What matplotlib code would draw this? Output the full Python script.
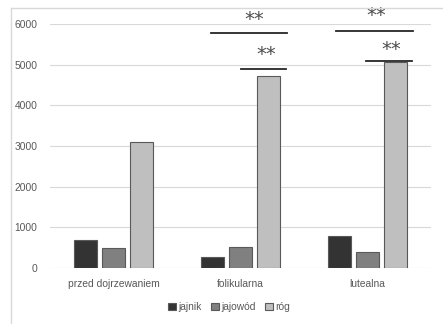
import matplotlib
matplotlib.use("Agg")
import matplotlib.pyplot as plt
from matplotlib.lines import Line2D
from matplotlib.patches import Patch
import numpy as np

plt.rcParams['font.family'] = ['Liberation Sans', 'DejaVu Sans']

categories = ["przed dojrzewaniem", "folikularna", "lutealna"]
series_names = ["jajnik", "jajowód", "róg"]
jajnik = [700, 280, 790]
jajowod = [490, 520, 390]
rog = [3100, 4720, 5070]
yticks = [0, 1000, 2000, 3000, 4000, 5000, 6000]

colors = ["#333333", "#808080", "#bfbfbf"]
edge = "#595959"
txt = "#595959"

W, H = 443, 324
fig = plt.figure(figsize=(W / 100, H / 100), dpi=100)
ax = fig.add_axes([50 / W, 1 - 268 / H, 381 / W, 244 / H])

x = np.arange(len(categories))
bw = 0.18
step = 0.22
for i, (vals, name) in enumerate(zip([jajnik, jajowod, rog], series_names)):
    ax.bar(x + (i - 1) * step, vals, width=bw, color=colors[i], edgecolor=edge,
           linewidth=0.8, label=name, zorder=3)

ax.set_xlim(-0.5, 2.5)
ax.set_ylim(0, 6000)
ax.set_yticks(yticks)
ax.set_yticklabels([str(v) for v in yticks], fontsize=7.4, color=txt)
ax.set_xticks(x)
ax.set_xticklabels(categories, fontsize=7.4, color=txt)
ax.tick_params(axis='y', length=0, pad=9)
ax.tick_params(axis='x', length=0, pad=8)
ax.grid(axis='y', color="#d9d9d9", linewidth=0.8, zorder=0)
for s in ax.spines.values():
    s.set_visible(False)

# significance annotations
def sig(x0, x1, y, ty, tx):
    ax.plot([x0, x1], [y, y], color="#262626", linewidth=1.3, clip_on=False, zorder=4)
    ax.text(tx, ty, "**", ha="center", va="center", fontsize=14, color="#4d4d4d",
            clip_on=False, family="DejaVu Sans")

sig(1 - 0.23, 1 + 0.37, 5780, 6120, 1 + 0.11)
sig(1 + 0.004, 1 + 0.36, 4890, 5250, 1 + 0.20)
sig(2 - 0.25, 2 + 0.36, 5830, 6200, 2 + 0.07)
sig(2 - 0.01, 2 + 0.35, 5090, 5380, 2 + 0.19)

# frame
fig.add_artist(Line2D([11 / W, 11 / W], [0, 1 - 8 / H], color="#d9d9d9", linewidth=1))
fig.add_artist(Line2D([11 / W, 1], [1 - 8 / H, 1 - 8 / H], color="#d9d9d9", linewidth=1))

handles = [Patch(facecolor=colors[i], edgecolor=edge, linewidth=0.8) for i in range(3)]
fig.legend(handles, series_names, loc="center", bbox_to_anchor=(229.5 / W, 1 - 307 / H),
           ncol=3, frameon=False, fontsize=7.4, handlelength=0.75, handleheight=0.75,
           handletextpad=0.25, columnspacing=0.9, labelcolor=txt)

fig.savefig("out.png", dpi=100)
